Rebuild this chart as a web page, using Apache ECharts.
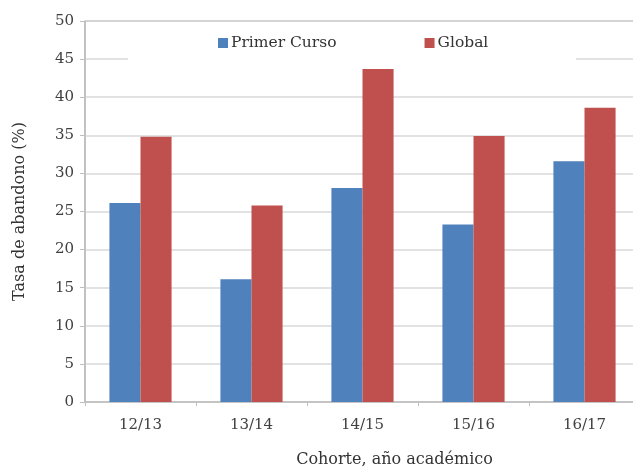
<!DOCTYPE html>
<html>
<head>
<meta charset="utf-8">
<script src="https://cdn.jsdelivr.net/npm/echarts@6/dist/echarts.min.js"></script>
<style>
  html, body { margin: 0; padding: 0; background: #fff; }
  #chart { width: 633px; height: 467px; }
</style>
</head>
<body>
<div id="chart"></div>
<script>
// Cohorts (academic year) and dropout rates in percent
const cohorts = ['12/13', '13/14', '14/15', '15/16', '16/17'];
const primerCurso = [26.1, 16.1, 28.1, 23.3, 31.6];
const globalRate = [34.8, 25.8, 43.7, 34.9, 38.6];
const yTicks = { min: 0, max: 50, interval: 5 };

const serif = '"DejaVu Serif", "Liberation Serif", serif';
const chart = echarts.init(document.getElementById('chart'));

chart.setOption({
  animation: false,
  backgroundColor: '#ffffff',
  textStyle: { fontFamily: serif },
  grid: {
    left: 85, right: -7, top: 21, bottom: 65,
    containLabel: false, outerBoundsMode: 'none',
    show: true, borderColor: '#8c8c8c', borderWidth: 1
  },
  graphic: [{
    type: 'rect', z: 1,
    shape: { x: 128, y: 28, width: 448, height: 36 },
    style: { fill: '#ffffff' }
  }],
  legend: {
    left: 213, top: 30, z: 5,
    icon: 'rect', itemWidth: 10, itemHeight: 10, itemGap: 88,
    textStyle: { fontFamily: serif, fontSize: 15.5, color: '#333333', padding: [0, 0, 0, -2] },
    data: ['Primer Curso', 'Global']
  },
  xAxis: {
    type: 'category',
    data: cohorts,
    name: 'Cohorte, año académico',
    nameLocation: 'middle',
    nameGap: 50,
    nameTextStyle: { fontFamily: serif, fontSize: 16, color: '#333333', padding: [0, 0, 0, 64] },
    axisLine: { lineStyle: { color: '#bfbfbf', width: 1.5 } },
    axisTick: { show: true, length: 4, lineStyle: { color: '#bfbfbf' } },
    axisLabel: { fontFamily: serif, fontSize: 15, color: '#404040', margin: 16 },
    splitLine: { show: false }
  },
  yAxis: {
    type: 'value',
    min: yTicks.min, max: yTicks.max, interval: yTicks.interval,
    name: 'Tasa de abandono (%)',
    nameLocation: 'middle',
    nameGap: 57,
    nameTextStyle: { fontFamily: serif, fontSize: 16, color: '#333333' },
    axisLine: { show: true, lineStyle: { color: '#bfbfbf', width: 1.5 } },
    axisTick: { show: true, length: 5, lineStyle: { color: '#bfbfbf' } },
    axisLabel: { fontFamily: serif, fontSize: 15, color: '#404040', margin: 11 },
    splitLine: { show: true, lineStyle: { color: '#d9d9d9', width: 1.5 } }
  },
  series: [
    {
      name: 'Primer Curso', type: 'bar', z: 2,
      data: primerCurso,
      barGap: '0%', barCategoryGap: '44%',
      itemStyle: { color: '#4f81bd' }
    },
    {
      name: 'Global', type: 'bar', z: 2,
      data: globalRate,
      itemStyle: { color: '#c0504d' }
    }
  ]
});
</script>
</body>
</html>
